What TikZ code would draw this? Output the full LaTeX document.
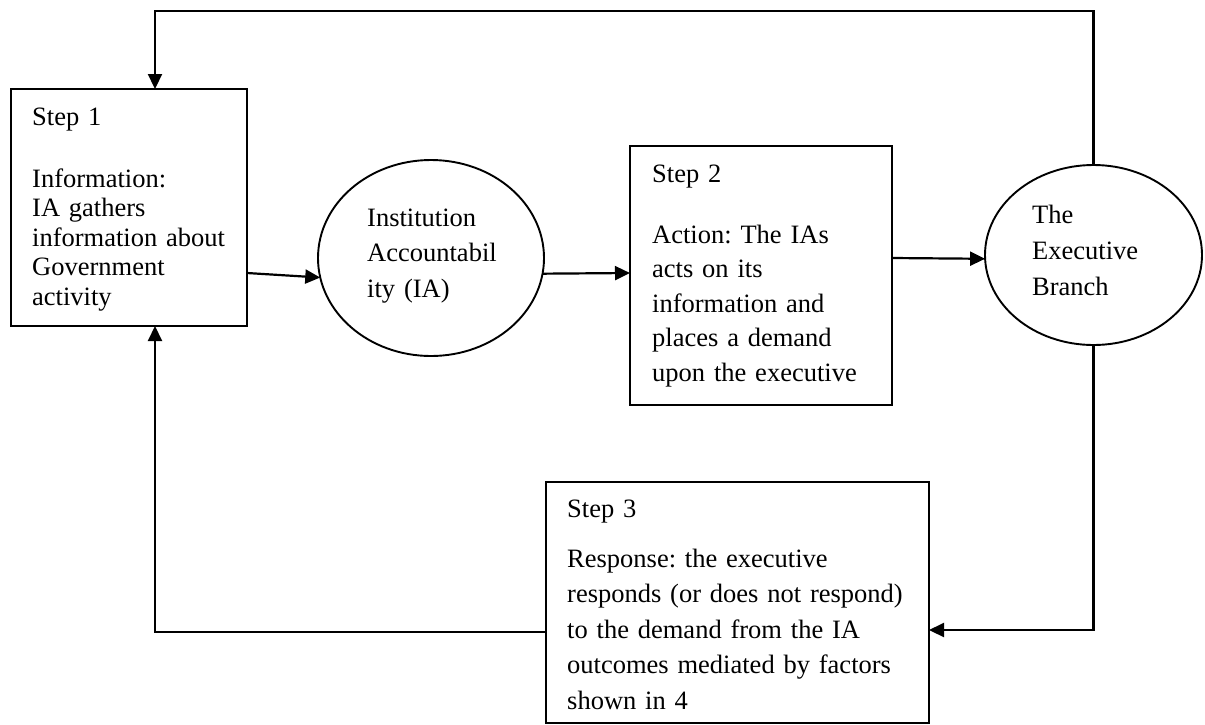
\documentclass[tikz,border=0pt]{standalone}
\usepackage{fontspec}
\setmainfont{Liberation Serif}
\usetikzlibrary{arrows.meta,shapes.geometric}
\frenchspacing
\begin{document}
\begin{tikzpicture}[x=1pt,y=-1pt,
  shapeline/.style={draw=black, line width=1.9pt},
  boxnode/.style={shapeline, rectangle, inner sep=0pt, outer sep=0pt},
  ovalnode/.style={shapeline, ellipse, inner sep=0pt, outer sep=0pt},
  txt/.style={anchor=base west, inner sep=0pt, align=left},
  conn/.style={line width=2.2pt, -{Triangle[length=15pt,width=14pt]}},
]
\useasboundingbox (0,0) rectangle (1205,724);

% shapes
\node[boxnode, minimum width=236pt, minimum height=237pt] (b1) at (129,207.5) {};
\node[ovalnode, minimum width=226pt, minimum height=196pt] (ia) at (431,258) {};
\node[boxnode, minimum width=262pt, minimum height=259pt] (b2) at (761,275.5) {};
\node[ovalnode, minimum width=217pt, minimum height=180pt] (ex) at (1093.5,255) {};
\node[boxnode, minimum width=383pt, minimum height=241pt] (b3) at (737.5,602.5) {};

% texts
\node[txt, text width=225pt, font=\fontsize{26.5}{29.5}\selectfont] (t1) at (32,125)
  {Step 1\\[32.5pt]Information:\\IA gathers\\information about\\Government\\activity};
\node[txt, text width=200pt, font=\fontsize{26.5}{35.5}\selectfont] (tia) at (367,226)
  {Institution\\Accountabil\\ity (IA)};
\node[txt, text width=240pt, font=\fontsize{26.5}{34.5}\selectfont] (t2) at (652,182)
  {Step 2\\[26.5pt]Action: The IAs\\acts on its\\information and\\places a demand\\upon the executive};
\node[txt, text width=160pt, font=\fontsize{26.5}{36}\selectfont] (tex) at (1032,223)
  {The\\Executive\\Branch};
\node[txt, text width=370pt, font=\fontsize{26.5}{35.5}\selectfont] (t3) at (567,517)
  {Step 3\\[14.5pt]Response: the executive\\responds (or does not respond)\\to the demand from the IA\\outcomes mediated by factors\\shown in 4};

% helper coordinates
\coordinate (c1) at (155,11);

% connectors
\draw[conn] (b1.east |- 0,273) -- (ia.190);
\draw[conn] (ia.352) -- (b2.west |- 0,273);
\draw[conn] (b2.east |- 0,258) -- (ex.182);
\draw[conn] (ex.north) |- (c1) -- (c1 |- b1.north);
\draw[conn] (ex.south) |- (b3.east |- 0,630);
\draw[conn] (b3.west |- 0,632) -| (c1 |- b1.south);
\end{tikzpicture}
\end{document}
